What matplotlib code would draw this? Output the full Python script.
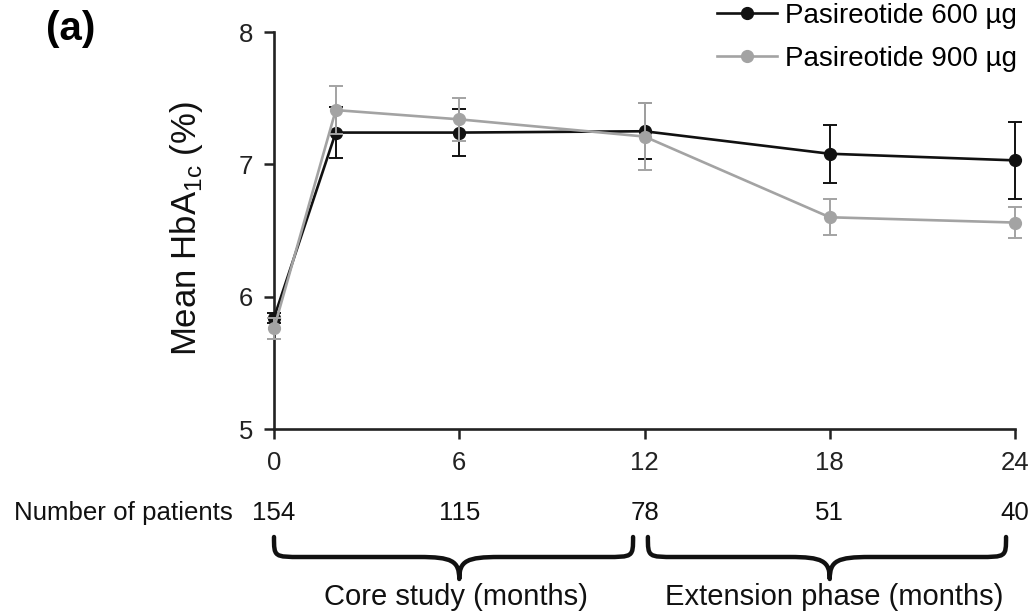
import matplotlib
matplotlib.use("Agg")
import matplotlib.pyplot as plt
from matplotlib.path import Path
from matplotlib.patches import PathPatch
import matplotlib.transforms as mtransforms

plt.rcParams['font.family'] = ['Liberation Sans', 'DejaVu Sans']

# ---- data ----
months = [0, 2, 6, 12, 18, 24]
mean_600 = [5.84, 7.24, 7.24, 7.25, 7.08, 7.03]
err_600 = [0.04, 0.19, 0.18, 0.21, 0.22, 0.29]
mean_900 = [5.76, 7.41, 7.34, 7.21, 6.60, 6.56]
err_900 = [0.08, 0.18, 0.16, 0.25, 0.135, 0.12]
label_600 = "Pasireotide 600 µg"
label_900 = "Pasireotide 900 µg"
xticks = [0, 6, 12, 18, 24]
yticks = [5, 6, 7, 8]
n_patients = ["154", "115", "78", "51", "40"]
phase_labels = ["Core study (months)", "Extension phase (months)"]
phase_spans = [(0.0, 11.63), (12.11, 23.71)]
phase_centers = [6, 18]
phase_text_shift = [-0.1, 0.15]

W, H = 1032, 614
fig = plt.figure(figsize=(W / 100, H / 100), dpi=100)
ax = fig.add_axes([274 / W, (H - 429) / H, 741 / W, 397 / H])

black = "#111111"
grey = "#a3a3a3"

ax.errorbar(months, mean_600, yerr=err_600, color=black, lw=1.9, marker='o',
            ms=8.5, capsize=4.8, elinewidth=1.4, capthick=1.4, label=label_600,
            clip_on=False, zorder=3)
ax.errorbar(months, mean_900, yerr=err_900, color=grey, lw=1.9, marker='o',
            ms=8.5, capsize=4.8, elinewidth=1.4, capthick=1.4, label=label_900,
            clip_on=False, zorder=4)

ax.set_xlim(0, 24)
ax.set_ylim(5, 8)
ax.set_xticks(xticks)
ax.set_yticks(yticks)
ax.tick_params(axis='both', direction='out', length=7, width=1.8,
               labelsize=18.5, color='#222222', labelcolor='#222222')
ax.tick_params(axis='x', pad=9)
ax.tick_params(axis='y', pad=8)
for s in ['top', 'right']:
    ax.spines[s].set_visible(False)
for s in ['left', 'bottom']:
    ax.spines[s].set_linewidth(1.9)
    ax.spines[s].set_color('#222222')

ax.set_ylabel("Mean HbA$_{\\mathregular{1c}}$ (%)", fontsize=25, color='#111111')
ax.yaxis.set_label_coords(-0.093, 0.506)

# legend
handles, labels = ax.get_legend_handles_labels()
handles = [h[0] for h in handles]
fig.legend(handles, labels, loc='upper right', bbox_to_anchor=(1017 / W, 1 - 3 / H),
           frameon=False, fontsize=20, handlelength=2.15, handletextpad=0.3,
           labelspacing=0.6, borderaxespad=0.0, borderpad=0.0)

# panel label
fig.text(46 / W, 1 - 29 / H, "(a)", fontsize=29, fontweight='bold', va='center', ha='left')

# number of patients row
trans = mtransforms.blended_transform_factory(ax.transData, fig.transFigure)
y_np = 1 - 513 / H
fig.text(233 / W, y_np, "Number of patients", fontsize=18.6, ha='right', va='center',
         color='#111111')
for xv, n in zip(xticks, n_patients):
    ax.text(xv, y_np, n, transform=trans, fontsize=18.6, ha='center', va='center',
            color='#111111', clip_on=False)

# braces
y_top = 1 - 537 / H
y_mid = 1 - 557 / H
y_tip = 1 - 579 / H


def brace_path(x0, x1, xc):
    r = 0.9
    rc = 1.3
    verts = [
        (x0, y_top),
        (x0, y_mid), (x0, y_mid), (x0 + r, y_mid),
        (xc - rc, y_mid),
        (xc - 0.25, y_mid), (xc, y_mid - 0.006), (xc, y_tip),
        (xc, y_mid - 0.006), (xc + 0.25, y_mid), (xc + rc, y_mid),
        (x1 - r, y_mid),
        (x1, y_mid), (x1, y_mid), (x1, y_top),
    ]
    codes = [Path.MOVETO,
             Path.CURVE4, Path.CURVE4, Path.CURVE4,
             Path.LINETO,
             Path.CURVE4, Path.CURVE4, Path.CURVE4,
             Path.CURVE4, Path.CURVE4, Path.CURVE4,
             Path.LINETO,
             Path.CURVE4, Path.CURVE4, Path.CURVE4]
    return Path(verts, codes)


for (x0, x1), xc, dx, lab in zip(phase_spans, phase_centers, phase_text_shift, phase_labels):
    patch = PathPatch(brace_path(x0, x1, xc), transform=trans, fill=False,
                      lw=3.2, edgecolor='#111111', clip_on=False, capstyle='round',
                      joinstyle='round')
    ax.add_artist(patch)
    ax.text(xc + dx, 1 - 597 / H, lab, transform=trans, fontsize=21, ha='center',
            va='center', color='#111111', clip_on=False)

fig.savefig("out.png", dpi=100)
